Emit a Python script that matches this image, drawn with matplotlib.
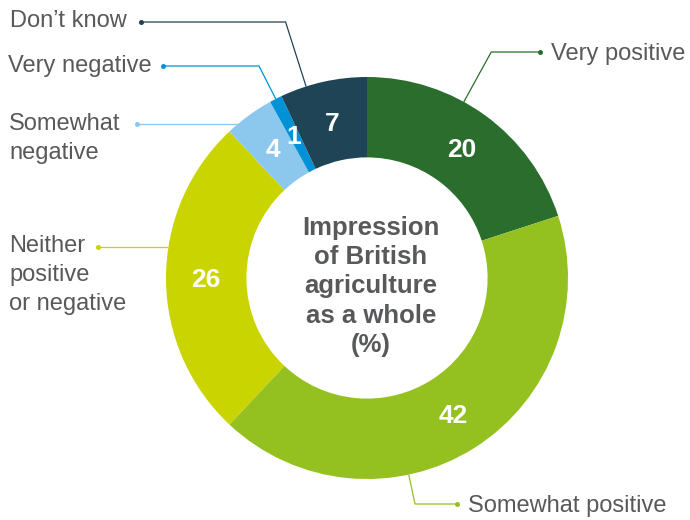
import numpy as np
import matplotlib
matplotlib.use("Agg")
import matplotlib.pyplot as plt

# Survey shares (%) going clockwise from the top of the ring
categories = ["Very positive", "Somewhat positive", "Neither\npositive\nor negative",
              "Somewhat\nnegative", "Very negative", "Don\u2019t know"]
values = [20, 42, 26, 4, 1, 7]
colors = ["#2a6d2d", "#94c11f", "#c9d400", "#8cc8ee", "#0092d5", "#1f4456"]
center_title = ["Impression", "of British", "agriculture", "as a whole", "(%)"]

W, H = 690, 520
FONT = "Liberation Sans"
GREY = "#58595b"

fig = plt.figure(figsize=(W / 100, H / 100), dpi=100)
ax = fig.add_axes([0, 0, 1, 1])

CX, CY, R = 367, H - 278, 201
RING = 0.4

wedges, _ = ax.pie(values, colors=colors, startangle=90, counterclock=False,
                   radius=R, center=(CX, CY),
                   wedgeprops=dict(width=R * RING, linewidth=0))
ax.set_xlim(0, W)
ax.set_ylim(0, H)
ax.set_aspect("equal")
ax.axis("off")

# value labels in the middle of each ring segment
for w, v in zip(wedges, values):
    a = np.deg2rad((w.theta1 + w.theta2) / 2)
    x = CX + 0.8 * R * np.cos(a)
    y = CY + 0.8 * R * np.sin(a)
    ax.text(x, y - 9.5, str(v), ha="center", va="baseline", color="white",
            fontsize=19, fontweight="bold", family=FONT)

# category callouts: (text x, first baseline, dot x, dot y, anchor)
# anchor: fraction along the segment (clockwise) or "flat" for a straight leader
layout = [
    (551, 60, 540, 52, 0.4),
    (468, 512, 457, 504, 0.635),
    (9, 252, 98, 247, "flat"),
    (9, 130, 137, 124, "flat"),
    (8, 72, 163, 66, 0.5),
    (10, 27, 141, 22, 0.3),
]
LINE_GAP = 29

for w, name, col, (tx, tb, dx, dy, anc) in zip(wedges, categories, colors, layout):
    dy_d = H - dy
    if anc == "flat":
        s = (dy_d - CY) / R
        ang = np.pi - np.arcsin(s) if dx < CX else np.arcsin(s)
        px, py = CX + R * np.cos(ang), CY + R * np.sin(ang)
        xs, ys = [px, dx], [dy_d, dy_d]
    else:
        th = np.deg2rad(w.theta2 - anc * (w.theta2 - w.theta1))
        px, py = CX + R * np.cos(th), CY + R * np.sin(th)
        t = (dy_d - py) / np.sin(th)
        ex = px + t * np.cos(th)
        xs, ys = [px, ex, dx], [py, dy_d, dy_d]
    ax.plot(xs, ys, color=col, lw=0.9, solid_capstyle="butt", zorder=3)
    ax.plot([dx], [dy_d], "o", color=col, ms=3.6, mew=0, zorder=4)
    for i, line in enumerate(name.split("\n")):
        ax.text(tx, H - (tb + i * LINE_GAP), line, ha="left", va="baseline",
                color=GREY, fontsize=17, family=FONT)

# title in the hole of the ring
for i, line in enumerate(center_title):
    ax.text(371, H - (235 + i * 29.25), line, ha="center", va="baseline",
            color=GREY, fontsize=18.5, fontweight="bold", family=FONT)

fig.savefig("out.png", dpi=100)
